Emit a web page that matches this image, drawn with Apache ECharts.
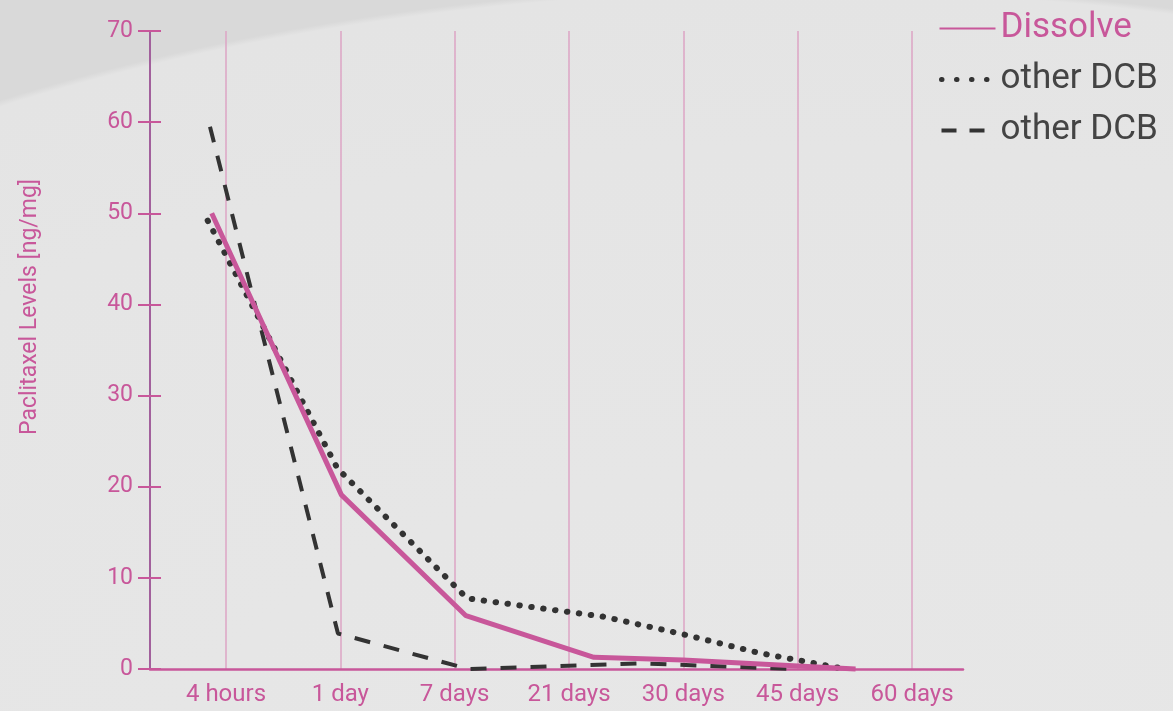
<!DOCTYPE html>
<html><head><meta charset="utf-8">
<script src="https://cdn.jsdelivr.net/npm/echarts@6/dist/echarts.min.js"></script>
<style>
html,body{margin:0;padding:0;width:1173px;height:711px;overflow:hidden;
background: radial-gradient(ellipse 1561px 815px at 800px 800px, #e7e7e7 0%, #e5e5e5 80%, #e4e4e4 99.3%, #d9d9d9 100%);}
#c{width:1173px;height:711px;}
</style></head><body><div id="c"></div>
<script>
// categories (tick labels)
const categories = ['4 hours','1 day','7 days','21 days','30 days','45 days','60 days'];
// series: [position in category units, ng/mg]
const dissolve = [[-0.125,50],[1.01,19.1],[2.10,5.85],[3.22,1.28],[4.0,1.0],[5.51,0]];
const dotted   = [[-0.16,49.2],[0.976,22.0],[2.11,7.75],[3.3,5.75],[3.97,3.9],[4.67,1.75],[5.42,0]];
const dashed   = [[-0.14,59.5],[0.98,3.9],[2.12,0],[3.62,0.62],[4.95,0]];

const PINK = '#c8579a';
const FONT = 'Roboto';
const chart = echarts.init(document.getElementById('c'));
chart.setOption({
  animation:false,
  textStyle:{fontFamily:FONT},
  grid:[
    {left:150,right:210,top:31,bottom:42},
    {left:226,right:261,top:31,bottom:42}
  ],
  xAxis:[
    {gridIndex:0,type:'value',min:-0.665,max:6.45,axisLine:{show:true,onZero:false,lineStyle:{color:PINK,width:2.5}},
     axisTick:{show:false},axisLabel:{show:false},splitLine:{show:false}},
    {gridIndex:1,type:'category',data:categories,boundaryGap:false,
     axisLine:{show:false},axisTick:{show:false},
     axisLabel:{color:PINK,fontSize:24,margin:14,fontFamily:FONT},
     splitLine:{show:true,lineStyle:{color:'#dda5c4',width:1.5}}}
  ],
  yAxis:[
    {gridIndex:0,type:'value',position:'left',min:0,max:70,interval:10,
     axisLine:{show:true,onZero:false,lineStyle:{color:'#a2609c',width:2}},
     axisTick:{show:true,length:12,lineStyle:{color:PINK,width:2}},
     axisLabel:{color:PINK,fontSize:23,margin:17,fontFamily:FONT},
     splitLine:{show:false},
     name:'Paclitaxel Levels [ng/mg]',nameLocation:'middle',nameGap:108,nameRotate:90,
     nameTextStyle:{color:PINK,fontSize:23,fontFamily:FONT,padding:[0,0,0,86]}},
    {gridIndex:0,type:'value',position:'left',min:0,max:70,interval:10,
     axisLine:{show:false,onZero:false},axisTick:{show:true,inside:true,length:11,lineStyle:{color:PINK,width:2}},
     axisLabel:{show:false},splitLine:{show:false}},
    {gridIndex:1,type:'value',min:0,max:70,show:false}
  ],
  legend:{
    left:932,top:6,orient:'vertical',itemWidth:56,itemHeight:14,itemGap:16,
    itemStyle:{opacity:0},
    textStyle:{fontSize:35,fontFamily:FONT,color:'#444'},
    data:[
      {name:'Dissolve',textStyle:{color:PINK},lineStyle:{width:2}},
      {name:'other DCB',lineStyle:{width:5,type:[0.5,14.5],cap:'round',dashOffset:-2}},
      {name:'other DCB ',lineStyle:{width:4,type:[15,13]}}
    ]
  },
  series:[
    {name:'Dissolve',type:'line',xAxisIndex:0,yAxisIndex:0,data:dissolve,symbol:'none',clip:false,
     lineStyle:{color:PINK,width:5},itemStyle:{color:PINK},z:5},
    {name:'other DCB',type:'line',xAxisIndex:0,yAxisIndex:0,data:dotted,symbol:'none',clip:false,
     lineStyle:{color:'#333',width:6,type:[0.5,11.5],cap:'round'},itemStyle:{color:'#333'},z:4},
    {name:'other DCB ',type:'line',xAxisIndex:0,yAxisIndex:0,data:dashed,symbol:'none',clip:false,
     lineStyle:{color:'#333',width:4,type:[16,14]},itemStyle:{color:'#333'},z:4}
  ]
});
</script></body></html>
